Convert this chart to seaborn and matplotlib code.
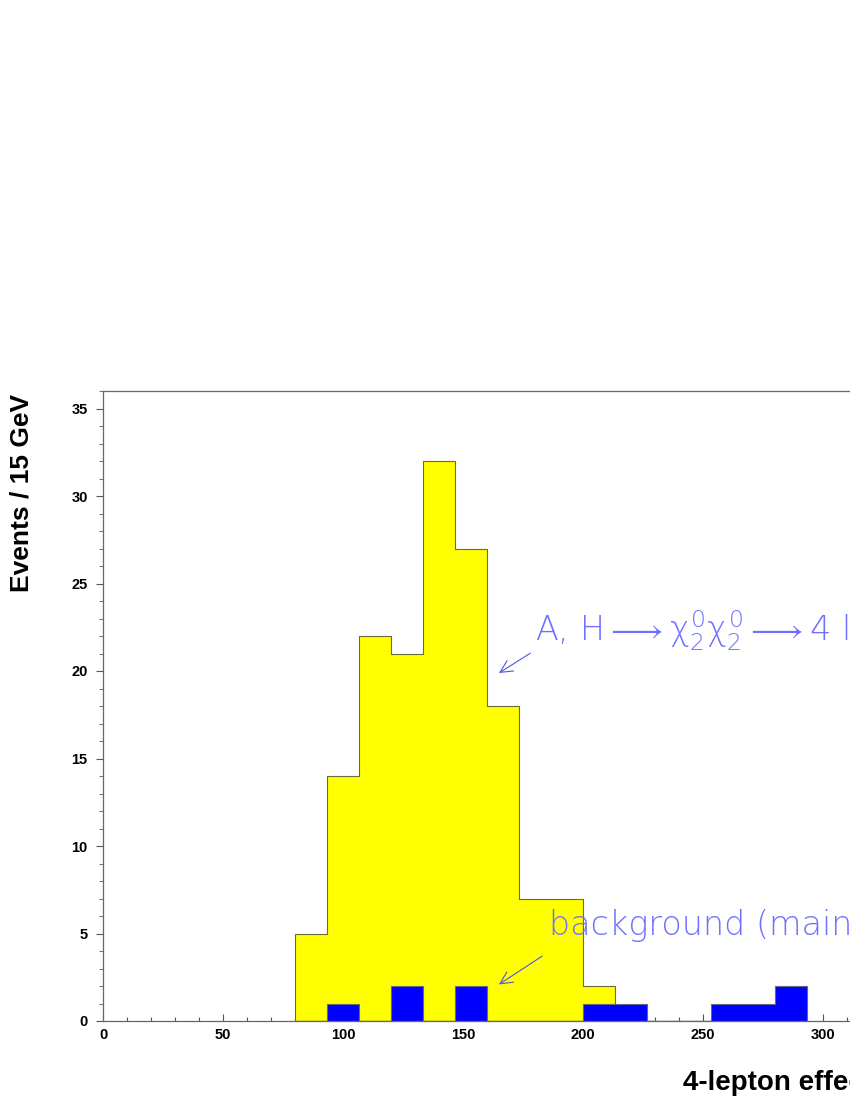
import numpy as np
import matplotlib
matplotlib.use("Agg")
import matplotlib.pyplot as plt
from matplotlib.ticker import MultipleLocator
import seaborn as sns

# ---- data ----
bin_edges = [80.0, 93.33, 106.67, 120.0, 133.33, 146.67, 160.0, 173.33,
             186.67, 200.0, 213.33, 226.67, 240.0, 253.33, 266.67, 280.0, 293.33]
signal_counts = [5, 14, 22, 21, 32, 27, 18, 7, 7, 2, 0, 0, 0, 0, 0, 0]
background_counts = [0, 1, 0, 2, 0, 2, 0, 0, 0, 1, 1, 0, 0, 1, 1, 2]
x_ticks = [0, 50, 100, 150, 200, 250, 300, 350, 400]
y_ticks = [0, 5, 10, 15, 20, 25, 30, 35]
signal_label = r"A, H$\longrightarrow\chi^0_2\chi^0_2\longrightarrow$4 leptons"
background_label = "background (mainly ZZ)"

sns.set_style("ticks")
plt.rcParams['font.family'] = ['Liberation Sans', 'DejaVu Sans']
plt.rcParams['mathtext.fontset'] = 'custom'
plt.rcParams['mathtext.rm'] = 'DejaVu Sans:weight=200'
plt.rcParams['mathtext.it'] = 'DejaVu Sans:weight=200'
plt.rcParams['mathtext.sf'] = 'DejaVu Sans:weight=200'
plt.rcParams['text.color'] = 'black'
plt.rcParams['xtick.labelcolor'] = 'black'
plt.rcParams['ytick.labelcolor'] = 'black'

centers = [(bin_edges[i] + bin_edges[i + 1]) / 2 for i in range(len(bin_edges) - 1)]

fig = plt.figure(figsize=(8.5, 11), dpi=100)
W, H = 850, 1100
x0, x1 = 103, 103 + 400 * 2.4
ybot, ytop = 1021, 391
ax = fig.add_axes([x0 / W, (H - ybot) / H, (x1 - x0) / W, (ybot - ytop) / H])

sns.histplot(x=centers, weights=signal_counts, bins=bin_edges, element="step",
             fill=True, color="#ffff00", alpha=1, edgecolor="#6b6b3a",
             linewidth=0.8, ax=ax)
sns.histplot(x=centers, weights=background_counts, bins=bin_edges, element="step",
             fill=True, color="#0000ff", alpha=1, edgecolor="#666688",
             linewidth=0.8, ax=ax)

ax.set_xlim(0, 400)
ax.set_ylim(0, 36)
ax.set_xticks(x_ticks)
ax.set_yticks(y_ticks)
ax.xaxis.set_minor_locator(MultipleLocator(10))
ax.yaxis.set_minor_locator(MultipleLocator(1))
ax.tick_params(axis='x', which='both', direction='in', length=5, width=0.8,
               color='#555555', labelsize=10.5, pad=5, labelcolor='black')
ax.tick_params(axis='x', which='minor', length=3)
ax.tick_params(axis='y', which='major', direction='out', length=5, width=0.8,
               color='#555555', labelsize=10.5, pad=6, labelcolor='black')
ax.tick_params(axis='y', which='minor', direction='out', length=3, width=0.8,
               color='#777777')
for lab in ax.get_xticklabels() + ax.get_yticklabels():
    lab.set_fontweight('bold')
for s in ax.spines.values():
    s.set_color('#666666')
    s.set_linewidth(0.9)
ax.set_xlabel("")
ax.set_ylabel("")

fig.text(22 / W, (H - 493) / H, "Events / 15 GeV", rotation=90, fontsize=19,
         fontweight='bold', ha='center', va='center', color='black')
fig.text(683 / W, (H - 1090) / H, "4-lepton effective mass (GeV)", fontsize=20,
         fontweight='bold', ha='left', va='baseline', color='black')

txt_color = "#7070ff"
ax.text(180, 21.7, signal_label, fontsize=24, color=txt_color,
        fontweight=200, ha='left', va='baseline', family=['DejaVu Sans'])
ax.text(186, 4.9, background_label, fontsize=24, color=txt_color,
        fontweight=200, ha='left', va='baseline', family=['DejaVu Sans'])
ax.annotate("", xy=(164, 19.8), xytext=(179, 21.1),
            arrowprops=dict(arrowstyle="->", color="#5555dd", lw=0.8,
                            mutation_scale=22))
ax.annotate("", xy=(164, 2.0), xytext=(184, 3.8),
            arrowprops=dict(arrowstyle="->", color="#5555dd", lw=0.8,
                            mutation_scale=22))

fig.savefig("out.png", dpi=100)
